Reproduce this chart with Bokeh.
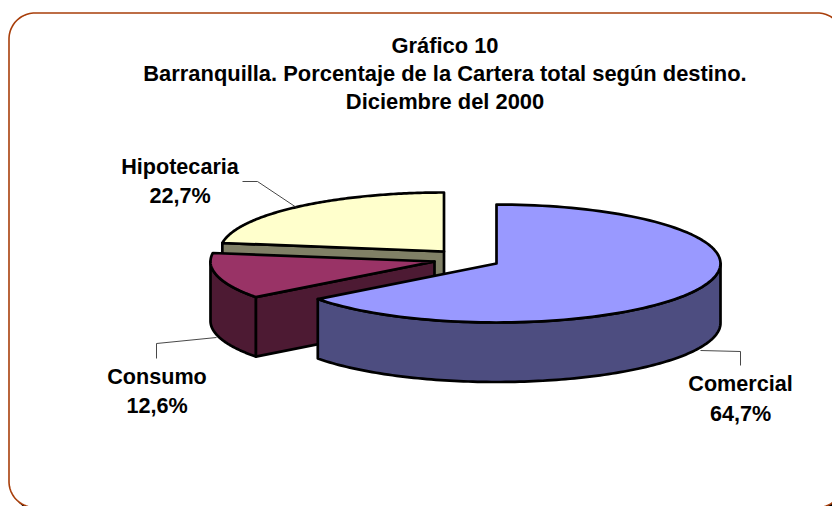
import numpy as np
from bokeh.plotting import figure
from bokeh.models import Range1d
from bokeh.core.properties import value
from bokeh.embed import file_html
from bokeh.resources import INLINE

title_lines = ["Gráfico 10", "Barranquilla. Porcentaje de la Cartera total según destino.", "Diciembre del 2000"]
categories = ["Comercial", "Consumo", "Hipotecaria"]
shares = [64.7, 12.6, 22.7]
share_labels = ["64,7%", "12,6%", "22,7%"]
top_colors = ["#9999FF", "#993366", "#FFFFCC"]
side_colors = ["#4D4D80", "#4D1A33", "#808066"]
# exploded slice centres, page pixels
centers = [(496, 263), (434, 261), (443.5, 251)]
RX, RY, DEPTH = 224, 59, 59.5
label_pos = [(740, 383, 412.5), (156.5, 376, 405), (179.5, 166, 195)]
leaders = [([700, 740, 740], [350, 351, 365]), ([156, 156, 216], [358, 343, 337]), ([242, 257, 296], [181, 181, 207])]
FRAME = (8.5, 12.5, 843, 507, 26)
FRAME_COLOR = "#A83E0A"

p = figure(width=832, height=506, x_range=Range1d(0, 832), y_range=Range1d(506, 0),
           output_backend="svg", toolbar_location=None, min_border=0)
p.axis.visible = False
p.grid.visible = False
p.outline_line_color = None
p.background_fill_color = "white"
p.border_fill_color = "white"


def rrect(l, t, r, b, rad):
    xs, ys = [], []
    for cx, cy, a0 in [(r - rad, t + rad, -90), (r - rad, b - rad, 0), (l + rad, b - rad, 90), (l + rad, t + rad, 180)]:
        a = np.radians(np.linspace(a0, a0 + 90, 24))
        xs += list(cx + rad * np.cos(a))
        ys += list(cy + rad * np.sin(a))
    return xs, ys


l, t, r, b, rad = FRAME
sx, sy = rrect(l + 4, t + 4, r + 4, b + 4, rad)
p.patch(sx, sy, fill_color="black", line_color="black")
fx, fy = rrect(l, t, r, b, rad)
p.patch(fx, fy, fill_color="white", line_color=FRAME_COLOR, line_width=1.6)


def rim(c, a0, a1, dy=0):
    a = np.radians(np.linspace(a0, a1, 120))
    return c[0] + RX * np.sin(a), c[1] - RY * np.cos(a) + dy


edges = np.concatenate([[0], np.cumsum(shares)]) * 3.6
edges[-1] = 360
kw = dict(line_color="black", line_width=2.7, line_join="round")

for i in [2, 1, 0]:
    c, a0, a1 = centers[i], edges[i], edges[i + 1]
    # radial cut faces that look towards the viewer
    for ang in (a0, a1):
        s = np.sin(np.radians(ang))
        faces_front = (ang == a0 and s < -1e-6) or (ang == a1 and 180 < ang < 360 and np.cos(np.radians(ang)) > 0 and i == 2)
        if faces_front:
            x, y = rim(c, ang, ang, 0)
            p.patch([c[0], x[0], x[0], c[0]], [c[1], y[0], y[0] + DEPTH, c[1] + DEPTH],
                    fill_color=side_colors[i], **kw)
    # visible part of the outer wall: the front half of the ellipse
    w0, w1 = max(a0, 90), min(a1, 270)
    if w1 > w0:
        x, y = rim(c, w0, w1)
        p.patch(list(x) + list(x[::-1]), list(y) + list((y + DEPTH)[::-1]),
                fill_color=side_colors[i], **kw)
    x, y = rim(c, a0, a1)
    p.patch([c[0]] + list(x), [c[1]] + list(y), fill_color=top_colors[i], **kw)

for xs, ys in leaders:
    p.line(xs, ys, line_color="#333333", line_width=0.9)

font = value("Liberation Sans")
txt = dict(text_font=font, text_font_style="bold", text_align="center", text_baseline="middle", text_color="black")
for line, y in zip(title_lines, [44.5, 72.5, 100.5]):
    p.text([444.5], [y], text=[line], text_font_size="21.9px", **txt)
for i, (x, y1, y2) in enumerate(label_pos):
    p.text([x], [y1], text=[categories[i]], text_font_size="21.6px", **txt)
    p.text([x], [y2], text=[share_labels[i]], text_font_size="21.6px", **txt)

open("out.html", "w").write(file_html(p, INLINE))
